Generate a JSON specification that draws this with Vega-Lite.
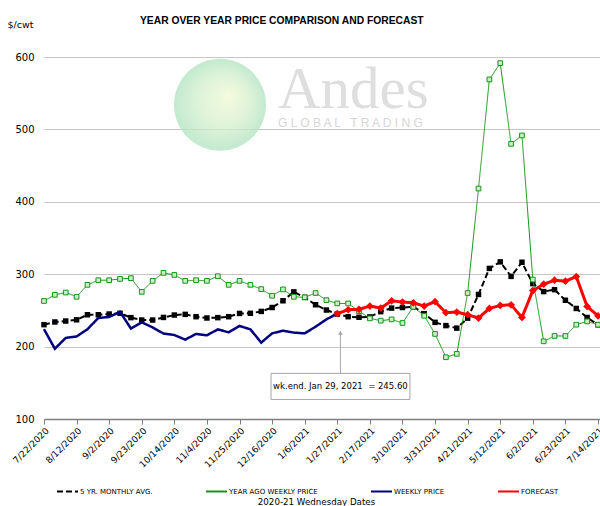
{
  "$schema": "https://vega.github.io/schema/vega-lite/v6.json",
  "width": 556,
  "height": 362,
  "autosize": {"type": "none"},
  "padding": {"left": 44, "top": 57, "right": 0, "bottom": 87},
  "background": "white",
  "title": {"text": "YEAR OVER YEAR PRICE COMPARISON AND FORECAST", "font": "Liberation Sans", "fontWeight": "bold", "fontSize": 10.3, "anchor": "start", "dx": 133, "offset": 0, "dy": 7, "color": "black"},
  "config": {"view": {"stroke": null}},
  "datasets": {
    "series": [
      {"date":"2020-07-22","series":"5 YR. MONTHLY AVG.","value":230.3},
      {"date":"2020-07-29","series":"5 YR. MONTHLY AVG.","value":234},
      {"date":"2020-08-05","series":"5 YR. MONTHLY AVG.","value":235.3},
      {"date":"2020-08-12","series":"5 YR. MONTHLY AVG.","value":237},
      {"date":"2020-08-19","series":"5 YR. MONTHLY AVG.","value":244},
      {"date":"2020-08-26","series":"5 YR. MONTHLY AVG.","value":244},
      {"date":"2020-09-02","series":"5 YR. MONTHLY AVG.","value":245},
      {"date":"2020-09-09","series":"5 YR. MONTHLY AVG.","value":246},
      {"date":"2020-09-16","series":"5 YR. MONTHLY AVG.","value":240},
      {"date":"2020-09-23","series":"5 YR. MONTHLY AVG.","value":236.7},
      {"date":"2020-09-30","series":"5 YR. MONTHLY AVG.","value":236.7},
      {"date":"2020-10-07","series":"5 YR. MONTHLY AVG.","value":240.3},
      {"date":"2020-10-14","series":"5 YR. MONTHLY AVG.","value":243.6},
      {"date":"2020-10-21","series":"5 YR. MONTHLY AVG.","value":244.5},
      {"date":"2020-10-28","series":"5 YR. MONTHLY AVG.","value":241.3},
      {"date":"2020-11-04","series":"5 YR. MONTHLY AVG.","value":239.5},
      {"date":"2020-11-11","series":"5 YR. MONTHLY AVG.","value":240},
      {"date":"2020-11-18","series":"5 YR. MONTHLY AVG.","value":241.3},
      {"date":"2020-11-25","series":"5 YR. MONTHLY AVG.","value":245.8},
      {"date":"2020-12-02","series":"5 YR. MONTHLY AVG.","value":246},
      {"date":"2020-12-09","series":"5 YR. MONTHLY AVG.","value":248.6},
      {"date":"2020-12-16","series":"5 YR. MONTHLY AVG.","value":254},
      {"date":"2020-12-23","series":"5 YR. MONTHLY AVG.","value":263.3},
      {"date":"2020-12-30","series":"5 YR. MONTHLY AVG.","value":275.6},
      {"date":"2021-01-06","series":"5 YR. MONTHLY AVG.","value":268},
      {"date":"2021-01-13","series":"5 YR. MONTHLY AVG.","value":257.8},
      {"date":"2021-01-20","series":"5 YR. MONTHLY AVG.","value":250.5},
      {"date":"2021-01-27","series":"5 YR. MONTHLY AVG.","value":245},
      {"date":"2021-02-03","series":"5 YR. MONTHLY AVG.","value":241.3},
      {"date":"2021-02-10","series":"5 YR. MONTHLY AVG.","value":240.5},
      {"date":"2021-02-17","series":"5 YR. MONTHLY AVG.","value":241},
      {"date":"2021-02-24","series":"5 YR. MONTHLY AVG.","value":248.3},
      {"date":"2021-03-03","series":"5 YR. MONTHLY AVG.","value":253.2},
      {"date":"2021-03-10","series":"5 YR. MONTHLY AVG.","value":254},
      {"date":"2021-03-17","series":"5 YR. MONTHLY AVG.","value":255},
      {"date":"2021-03-24","series":"5 YR. MONTHLY AVG.","value":245.5},
      {"date":"2021-03-31","series":"5 YR. MONTHLY AVG.","value":233.5},
      {"date":"2021-04-07","series":"5 YR. MONTHLY AVG.","value":229},
      {"date":"2021-04-14","series":"5 YR. MONTHLY AVG.","value":225.5},
      {"date":"2021-04-21","series":"5 YR. MONTHLY AVG.","value":239.3},
      {"date":"2021-04-28","series":"5 YR. MONTHLY AVG.","value":272},
      {"date":"2021-05-05","series":"5 YR. MONTHLY AVG.","value":308},
      {"date":"2021-05-12","series":"5 YR. MONTHLY AVG.","value":317},
      {"date":"2021-05-19","series":"5 YR. MONTHLY AVG.","value":297},
      {"date":"2021-05-26","series":"5 YR. MONTHLY AVG.","value":316.5},
      {"date":"2021-06-02","series":"5 YR. MONTHLY AVG.","value":287},
      {"date":"2021-06-09","series":"5 YR. MONTHLY AVG.","value":276},
      {"date":"2021-06-16","series":"5 YR. MONTHLY AVG.","value":278.6},
      {"date":"2021-06-23","series":"5 YR. MONTHLY AVG.","value":264},
      {"date":"2021-06-30","series":"5 YR. MONTHLY AVG.","value":252.7},
      {"date":"2021-07-07","series":"5 YR. MONTHLY AVG.","value":240.2},
      {"date":"2021-07-14","series":"5 YR. MONTHLY AVG.","value":230.2},

      {"date":"2020-07-22","series":"YEAR AGO WEEKLY PRICE","value":263},
      {"date":"2020-07-29","series":"YEAR AGO WEEKLY PRICE","value":271.5},
      {"date":"2020-08-05","series":"YEAR AGO WEEKLY PRICE","value":274.7},
      {"date":"2020-08-12","series":"YEAR AGO WEEKLY PRICE","value":268.8},
      {"date":"2020-08-19","series":"YEAR AGO WEEKLY PRICE","value":285.3},
      {"date":"2020-08-26","series":"YEAR AGO WEEKLY PRICE","value":291.7},
      {"date":"2020-09-02","series":"YEAR AGO WEEKLY PRICE","value":291.7},
      {"date":"2020-09-09","series":"YEAR AGO WEEKLY PRICE","value":293.5},
      {"date":"2020-09-16","series":"YEAR AGO WEEKLY PRICE","value":294.5},
      {"date":"2020-09-23","series":"YEAR AGO WEEKLY PRICE","value":275.6},
      {"date":"2020-09-30","series":"YEAR AGO WEEKLY PRICE","value":290.8},
      {"date":"2020-10-07","series":"YEAR AGO WEEKLY PRICE","value":301.8},
      {"date":"2020-10-14","series":"YEAR AGO WEEKLY PRICE","value":299},
      {"date":"2020-10-21","series":"YEAR AGO WEEKLY PRICE","value":290.8},
      {"date":"2020-10-28","series":"YEAR AGO WEEKLY PRICE","value":291.7},
      {"date":"2020-11-04","series":"YEAR AGO WEEKLY PRICE","value":290.8},
      {"date":"2020-11-11","series":"YEAR AGO WEEKLY PRICE","value":297.2},
      {"date":"2020-11-18","series":"YEAR AGO WEEKLY PRICE","value":285.3},
      {"date":"2020-11-25","series":"YEAR AGO WEEKLY PRICE","value":290.8},
      {"date":"2020-12-02","series":"YEAR AGO WEEKLY PRICE","value":285.3},
      {"date":"2020-12-09","series":"YEAR AGO WEEKLY PRICE","value":279.4},
      {"date":"2020-12-16","series":"YEAR AGO WEEKLY PRICE","value":270.2},
      {"date":"2020-12-23","series":"YEAR AGO WEEKLY PRICE","value":279},
      {"date":"2020-12-30","series":"YEAR AGO WEEKLY PRICE","value":268.8},
      {"date":"2021-01-06","series":"YEAR AGO WEEKLY PRICE","value":268},
      {"date":"2021-01-13","series":"YEAR AGO WEEKLY PRICE","value":274},
      {"date":"2021-01-20","series":"YEAR AGO WEEKLY PRICE","value":264.2},
      {"date":"2021-01-27","series":"YEAR AGO WEEKLY PRICE","value":259.6},
      {"date":"2021-02-03","series":"YEAR AGO WEEKLY PRICE","value":259.6},
      {"date":"2021-02-10","series":"YEAR AGO WEEKLY PRICE","value":249},
      {"date":"2021-02-17","series":"YEAR AGO WEEKLY PRICE","value":239},
      {"date":"2021-02-24","series":"YEAR AGO WEEKLY PRICE","value":235.8},
      {"date":"2021-03-03","series":"YEAR AGO WEEKLY PRICE","value":237.6},
      {"date":"2021-03-10","series":"YEAR AGO WEEKLY PRICE","value":232.6},
      {"date":"2021-03-17","series":"YEAR AGO WEEKLY PRICE","value":255},
      {"date":"2021-03-24","series":"YEAR AGO WEEKLY PRICE","value":242.6},
      {"date":"2021-03-31","series":"YEAR AGO WEEKLY PRICE","value":217.5},
      {"date":"2021-04-07","series":"YEAR AGO WEEKLY PRICE","value":185.3},
      {"date":"2021-04-14","series":"YEAR AGO WEEKLY PRICE","value":190},
      {"date":"2021-04-21","series":"YEAR AGO WEEKLY PRICE","value":274},
      {"date":"2021-04-28","series":"YEAR AGO WEEKLY PRICE","value":418.3},
      {"date":"2021-05-05","series":"YEAR AGO WEEKLY PRICE","value":569},
      {"date":"2021-05-12","series":"YEAR AGO WEEKLY PRICE","value":591.5},
      {"date":"2021-05-19","series":"YEAR AGO WEEKLY PRICE","value":480},
      {"date":"2021-05-26","series":"YEAR AGO WEEKLY PRICE","value":491.6},
      {"date":"2021-06-02","series":"YEAR AGO WEEKLY PRICE","value":292.6},
      {"date":"2021-06-09","series":"YEAR AGO WEEKLY PRICE","value":207.3},
      {"date":"2021-06-16","series":"YEAR AGO WEEKLY PRICE","value":214.7},
      {"date":"2021-06-23","series":"YEAR AGO WEEKLY PRICE","value":214.7},
      {"date":"2021-06-30","series":"YEAR AGO WEEKLY PRICE","value":230.3},
      {"date":"2021-07-07","series":"YEAR AGO WEEKLY PRICE","value":234.8},
      {"date":"2021-07-14","series":"YEAR AGO WEEKLY PRICE","value":230.3},

      {"date":"2020-07-22","series":"WEEKLY PRICE","value":224},
      {"date":"2020-07-29","series":"WEEKLY PRICE","value":197},
      {"date":"2020-08-05","series":"WEEKLY PRICE","value":212},
      {"date":"2020-08-12","series":"WEEKLY PRICE","value":214},
      {"date":"2020-08-19","series":"WEEKLY PRICE","value":224},
      {"date":"2020-08-26","series":"WEEKLY PRICE","value":239.5},
      {"date":"2020-09-02","series":"WEEKLY PRICE","value":241},
      {"date":"2020-09-09","series":"WEEKLY PRICE","value":248},
      {"date":"2020-09-16","series":"WEEKLY PRICE","value":225},
      {"date":"2020-09-23","series":"WEEKLY PRICE","value":233.5},
      {"date":"2020-09-30","series":"WEEKLY PRICE","value":226.5},
      {"date":"2020-10-07","series":"WEEKLY PRICE","value":218},
      {"date":"2020-10-14","series":"WEEKLY PRICE","value":216},
      {"date":"2020-10-21","series":"WEEKLY PRICE","value":209.6},
      {"date":"2020-10-28","series":"WEEKLY PRICE","value":217.5},
      {"date":"2020-11-04","series":"WEEKLY PRICE","value":215.6},
      {"date":"2020-11-11","series":"WEEKLY PRICE","value":223.8},
      {"date":"2020-11-18","series":"WEEKLY PRICE","value":219.7},
      {"date":"2020-11-25","series":"WEEKLY PRICE","value":228.5},
      {"date":"2020-12-02","series":"WEEKLY PRICE","value":223.8},
      {"date":"2020-12-09","series":"WEEKLY PRICE","value":205.5},
      {"date":"2020-12-16","series":"WEEKLY PRICE","value":218.3},
      {"date":"2020-12-23","series":"WEEKLY PRICE","value":222},
      {"date":"2020-12-30","series":"WEEKLY PRICE","value":219.3},
      {"date":"2021-01-06","series":"WEEKLY PRICE","value":218.3},
      {"date":"2021-01-13","series":"WEEKLY PRICE","value":227.5},
      {"date":"2021-01-20","series":"WEEKLY PRICE","value":237.6},
      {"date":"2021-01-27","series":"WEEKLY PRICE","value":245.6},

      {"date":"2021-01-27","series":"FORECAST","value":245.6},
      {"date":"2021-02-03","series":"FORECAST","value":250.9},
      {"date":"2021-02-10","series":"FORECAST","value":251.5},
      {"date":"2021-02-17","series":"FORECAST","value":256},
      {"date":"2021-02-24","series":"FORECAST","value":253.2},
      {"date":"2021-03-03","series":"FORECAST","value":263.3},
      {"date":"2021-03-10","series":"FORECAST","value":261.5},
      {"date":"2021-03-17","series":"FORECAST","value":260.5},
      {"date":"2021-03-24","series":"FORECAST","value":256},
      {"date":"2021-03-31","series":"FORECAST","value":262},
      {"date":"2021-04-07","series":"FORECAST","value":246.8},
      {"date":"2021-04-14","series":"FORECAST","value":247.7},
      {"date":"2021-04-21","series":"FORECAST","value":244},
      {"date":"2021-04-28","series":"FORECAST","value":239.5},
      {"date":"2021-05-05","series":"FORECAST","value":252.7},
      {"date":"2021-05-12","series":"FORECAST","value":256.8},
      {"date":"2021-05-19","series":"FORECAST","value":257.8},
      {"date":"2021-05-26","series":"FORECAST","value":240.3},
      {"date":"2021-06-02","series":"FORECAST","value":277.4},
      {"date":"2021-06-09","series":"FORECAST","value":286.2},
      {"date":"2021-06-16","series":"FORECAST","value":291.7},
      {"date":"2021-06-23","series":"FORECAST","value":290.4},
      {"date":"2021-06-30","series":"FORECAST","value":296.7},
      {"date":"2021-07-07","series":"FORECAST","value":255.4},
      {"date":"2021-07-14","series":"FORECAST","value":242.6}
    ]
  },
  "encoding": {
    "x": {
      "field": "date", "type": "temporal",
      "scale": {"type": "utc", "domain": [{"year": 2020, "month": 7, "date": 22, "utc": true}, {"year": 2021, "month": 7, "date": 15, "hours": 7, "utc": true}]},
      "axis": {
        "values": [
          {"year": 2020, "month": 7, "date": 22, "utc": true},
          {"year": 2020, "month": 8, "date": 12, "utc": true},
          {"year": 2020, "month": 9, "date": 2, "utc": true},
          {"year": 2020, "month": 9, "date": 23, "utc": true},
          {"year": 2020, "month": 10, "date": 14, "utc": true},
          {"year": 2020, "month": 11, "date": 4, "utc": true},
          {"year": 2020, "month": 11, "date": 25, "utc": true},
          {"year": 2020, "month": 12, "date": 16, "utc": true},
          {"year": 2021, "month": 1, "date": 6, "utc": true},
          {"year": 2021, "month": 1, "date": 27, "utc": true},
          {"year": 2021, "month": 2, "date": 17, "utc": true},
          {"year": 2021, "month": 3, "date": 10, "utc": true},
          {"year": 2021, "month": 3, "date": 31, "utc": true},
          {"year": 2021, "month": 4, "date": 21, "utc": true},
          {"year": 2021, "month": 5, "date": 12, "utc": true},
          {"year": 2021, "month": 6, "date": 2, "utc": true},
          {"year": 2021, "month": 6, "date": 23, "utc": true},
          {"year": 2021, "month": 7, "date": 14, "utc": true}
        ],
        "format": "%-m/%-d/%Y",
        "labelAngle": -45,
        "labelOverlap": false,
        "labelBound": false,
        "labelFlush": false,
        "grid": false,
        "domainColor": "#7f7f7f",
        "domainWidth": 1.5,
        "tickColor": "#7f7f7f",
        "tickSize": 5,
        "labelFont": "DejaVu Sans",
        "labelFontSize": 9,
        "labelColor": "black",
        "labelPadding": 2,
        "title": "2020-21 Wednesday Dates",
        "titleFont": "DejaVu Sans",
        "titleFontSize": 8.7,
        "titleFontWeight": "normal",
        "titleColor": "black",
        "titleY": 85,
        "titleX": 272,
        "titleBaseline": "alphabetic"
      }
    },
    "y": {
      "field": "value", "type": "quantitative",
      "scale": {"domain": [100, 600]},
      "axis": {
        "values": [100, 200, 300, 400, 500, 600],
        "title": "$/cwt",
        "titleAngle": 0,
        "titleX": -37,
        "titleY": -30,
        "titleAlign": "left",
        "titleBaseline": "alphabetic",
        "titleFont": "DejaVu Sans",
        "titleFontSize": 9.5,
        "titleFontWeight": "normal",
        "titleColor": "black",
        "domain": false,
        "ticks": false,
        "labelPadding": 10,
        "labelFont": "DejaVu Sans",
        "labelFontSize": 10,
        "labelColor": "black",
        "gridColor": "#c6c6c6",
        "gridWidth": 1
      }
    }
  },
  "layer": [
    {
      "data": {"values": [{"date": "2020-11-12T10:00:00Z", "value": 534}]},
      "mark": {"type": "point", "shape": "circle", "size": 8464, "filled": true, "opacity": 0.8, "strokeOpacity": 0,
        "fill": {"gradient": "radial", "x1": 0.6, "y1": 0.4, "r1": 0, "x2": 0.5, "y2": 0.5, "r2": 0.5,
          "stops": [{"offset": 0, "color": "#f2f9d4"}, {"offset": 0.55, "color": "#d6f0d0"}, {"offset": 1, "color": "#b3e4c3"}]}}
    },
    {
      "data": {"values": [{"date": "2020-12-19T19:00:00Z", "value": 529.5, "label": "Andes"}]},
      "mark": {"type": "text", "align": "left", "baseline": "alphabetic", "font": "Liberation Serif", "fontSize": 59, "color": "#dedede"},
      "encoding": {"text": {"field": "label"}}
    },
    {
      "data": {"values": [{"date": "2020-12-19T19:00:00Z", "value": 503.5, "label": "G L O B A L \u00a0 T R A D I N G"}]},
      "mark": {"type": "text", "align": "left", "baseline": "alphabetic", "font": "Liberation Sans", "fontSize": 12, "color": "#d6d6d6"},
      "encoding": {"text": {"field": "label"}}
    },
    {
      "data": {"name": "series"},
      "transform": [{"filter": "datum.series === '5 YR. MONTHLY AVG.'"}],
      "mark": {"type": "line", "strokeWidth": 2},
      "encoding": {
        "color": {"field": "series", "type": "nominal",
          "scale": {"domain": ["5 YR. MONTHLY AVG.", "YEAR AGO WEEKLY PRICE", "WEEKLY PRICE", "FORECAST"], "range": ["#000000", "#169616", "#000080", "#ff0000"]},
          "legend": {"orient": "none", "legendX": 12, "legendY": 423, "direction": "horizontal", "columns": 4, "title": null, "gridAlign": "none",
            "symbolType": "stroke", "symbolSize": 441, "symbolStrokeWidth": 2, "labelFont": "DejaVu Sans", "labelFontSize": 7,
            "labelColor": "black", "columnPadding": 49, "labelOffset": 1, "padding": 0}},
        "strokeDash": {"field": "series", "type": "nominal",
          "scale": {"domain": ["5 YR. MONTHLY AVG.", "YEAR AGO WEEKLY PRICE", "WEEKLY PRICE", "FORECAST"], "range": [[6, 3], [1, 0], [1, 0], [1, 0]]}}
      }
    },
    {
      "data": {"name": "series"},
      "transform": [{"filter": "datum.series === '5 YR. MONTHLY AVG.'"}],
      "mark": {"type": "point", "shape": "square", "filled": true, "size": 30, "color": "#000000", "opacity": 1}
    },
    {
      "data": {"name": "series"},
      "transform": [{"filter": "datum.series === 'YEAR AGO WEEKLY PRICE'"}],
      "mark": {"type": "line", "strokeWidth": 1},
      "encoding": {
        "color": {"field": "series", "type": "nominal"},
        "strokeDash": {"field": "series", "type": "nominal"}
      }
    },
    {
      "data": {"name": "series"},
      "transform": [{"filter": "datum.series === 'YEAR AGO WEEKLY PRICE'"}],
      "mark": {"type": "point", "shape": "square", "size": 22, "fill": "#cdeccd", "stroke": "#169616", "strokeWidth": 1, "opacity": 1}
    },
    {
      "data": {"name": "series"},
      "transform": [{"filter": "datum.series === 'WEEKLY PRICE'"}],
      "mark": {"type": "line", "strokeWidth": 2.5},
      "encoding": {
        "color": {"field": "series", "type": "nominal"},
        "strokeDash": {"field": "series", "type": "nominal"}
      }
    },
    {
      "data": {"name": "series"},
      "transform": [{"filter": "datum.series === 'FORECAST'"}],
      "mark": {"type": "line", "strokeWidth": 3},
      "encoding": {
        "color": {"field": "series", "type": "nominal"},
        "strokeDash": {"field": "series", "type": "nominal"}
      }
    },
    {
      "data": {"name": "series"},
      "transform": [{"filter": "datum.series === 'FORECAST'"}],
      "mark": {"type": "point", "shape": "diamond", "filled": true, "size": 60, "color": "#ff0000", "opacity": 1}
    },
    {
      "data": {"values": [{"date": "2021-01-29", "y1": 163, "y2": 221}]},
      "mark": {"type": "rule", "color": "#a6a6a6", "strokeWidth": 1},
      "encoding": {"y": {"field": "y1", "type": "quantitative"}, "y2": {"field": "y2"}}
    },
    {
      "data": {"values": [{"date": "2021-01-29", "value": 219}]},
      "mark": {"type": "point", "shape": "triangle-up", "filled": true, "size": 22, "color": "#a6a6a6", "opacity": 1}
    },
    {
      "data": {"values": [{"x1": "2020-12-15T07:00:00Z", "x2": "2021-03-14T20:00:00Z", "y1": 127, "y2": 163}]},
      "mark": {"type": "rect", "fill": "white", "stroke": "#a6a6a6", "strokeWidth": 1},
      "encoding": {
        "x": {"field": "x1", "type": "temporal"},
        "x2": {"field": "x2"},
        "y": {"field": "y1", "type": "quantitative"},
        "y2": {"field": "y2"}
      }
    },
    {
      "data": {"values": [{"date": "2021-01-29", "value": 145, "label": "wk.end. Jan 29, 2021 \u00a0= 245.60"}]},
      "mark": {"type": "text", "align": "center", "baseline": "middle", "font": "DejaVu Sans", "fontSize": 8.5, "color": "black"},
      "encoding": {"text": {"field": "label"}}
    }
  ]
}
